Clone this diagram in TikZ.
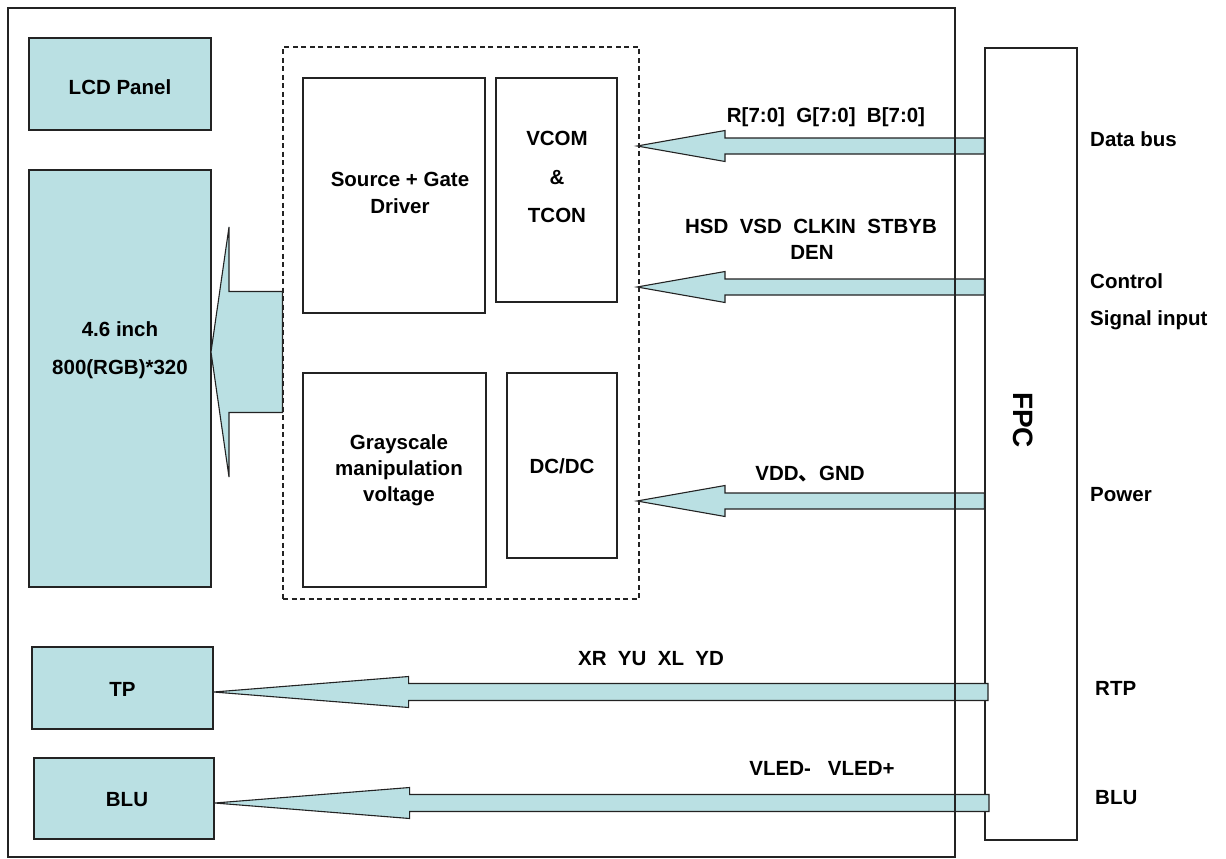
\documentclass[tikz,border=0pt]{standalone}
\usepackage{fontspec}
\setmainfont{Liberation Sans}
\usetikzlibrary{calc}
\definecolor{cy}{RGB}{186,224,227}
\definecolor{ln}{RGB}{35,35,35}
\newcommand{\blockarrow}[5]{%
  \path[barrow] let \p1=(#1), \p2=(#2) in
    (\x1,\y1) -- (\x1+#3,\y1+#4) -- (\x1+#3,\y1+#5) -- (\x2,\y1+#5)
    -- (\x2,\y1-#5) -- (\x1+#3,\y1-#5) -- (\x1+#3,\y1-#4) -- cycle;}
\begin{document}
\begin{tikzpicture}[x=1pt,y=-1pt,
  font=\fontsize{20.5}{25}\selectfont\bfseries,
  box/.style={draw=ln, line width=1.3pt, fill=cy, inner sep=0pt, align=center},
  wbox/.style={draw=ln, line width=1.3pt, fill=white, inner sep=0pt, align=center},
  barrow/.style={draw=ln, line width=1.1pt, fill=cy, line join=miter},
  lbl/.style={inner sep=0pt, align=center, anchor=center},
  rlbl/.style={inner sep=0pt, anchor=west}]
\useasboundingbox[fill=white] (0,0) rectangle (1226,859);
% FPC
\node[wbox, minimum width=92pt, minimum height=792pt] (fpc) at (1031,444) {};
\node[lbl, rotate=-90, font=\fontsize{28}{32}\selectfont\bfseries] (fpct) at (1023,420) {FPC};
% left boxes
\node[box, minimum width=182pt, minimum height=92pt] (lcd) at (120,84) {};
\node[lbl] (lcdt) at (120,87) {LCD Panel};
\node[box, minimum width=182pt, minimum height=417pt] (panel) at (120,378.5) {};
\node[lbl, font=\fontsize{20.5}{38}\selectfont\bfseries] (panelt) at (120,350.5) {4.6 inch\\800(RGB)*320};
\node[box, minimum width=181pt, minimum height=82pt] (tp) at (122.5,688) {};
\node[lbl] (tpt) at (122.5,689) {TP};
\node[box, minimum width=180pt, minimum height=81pt] (blu) at (124,798.5) {};
\node[lbl] (blut) at (127,799.5) {BLU};
% dashed driver box
\node[draw=ln, line width=1.1pt, dash pattern=on 5pt off 3.5pt, minimum width=356pt, minimum height=552pt, inner sep=0pt] (dash) at (461,323) {};
\node[wbox, minimum width=182pt, minimum height=235pt] (src) at (394,195.5) {};
\node[lbl, font=\fontsize{20.5}{27}\selectfont\bfseries] (srct) at (400,192.5) {Source + Gate\\Driver};
\node[wbox, minimum width=121pt, minimum height=224pt] (vcom) at (556.5,190) {};
\node[lbl, font=\fontsize{20.5}{38.5}\selectfont\bfseries] (vcomt) at (557,177) {VCOM\\\&\\TCON};
\node[wbox, minimum width=183pt, minimum height=214pt] (gray) at (394.5,480) {};
\node[lbl, font=\fontsize{20.5}{26}\selectfont\bfseries] (grayt) at (399,470) {Grayscale\\manipulation\\voltage};
\node[wbox, minimum width=110pt, minimum height=185pt] (dcdc) at (562,465.5) {};
\node[lbl] (dcdct) at (562,466) {DC/DC};
% arrow coordinates
\coordinate (bigtip) at (211,352);
\coordinate (bigtail) at (dash.west |- bigtip);
\coordinate (dbtip) at (637,146);
\coordinate (dbtail) at (fpc.west |- dbtip);
\coordinate (cstip) at (637,287);
\coordinate (cstail) at (fpc.west |- cstip);
\coordinate (pwtip) at (637,501);
\coordinate (pwtail) at (fpc.west |- pwtip);
\coordinate (tptip) at (tp.east |- 0,692);
\coordinate (tptail) at (988,692);
\coordinate (blutip) at (blu.east |- 0,803);
\coordinate (blutail) at (989,803);
\blockarrow{bigtip}{bigtail}{18pt}{125pt}{60.5pt}
\blockarrow{dbtip}{dbtail}{88pt}{15.5pt}{8pt}
\blockarrow{cstip}{cstail}{88pt}{15.5pt}{8pt}
\blockarrow{pwtip}{pwtail}{88pt}{15.5pt}{8pt}
\blockarrow{tptip}{tptail}{195pt}{15.5pt}{8.5pt}
\blockarrow{blutip}{blutail}{195pt}{15.5pt}{8.5pt}
% outer frame
\draw[ln, line width=1.3pt] (8,8) rectangle (955,857);
% labels on arrows
\node[lbl] (l1) at (826,117) {R[7:0]\ \ G[7:0]\ \ B[7:0]};
\node[lbl] (l2) at (811,226) {HSD\ \ VSD\ \ CLKIN\ \ STBYB};
\node[lbl] (l3) at (812,252) {DEN};
\node[lbl] (l4) at (810,474) {VDD{\fontspec{Noto Sans CJK SC}、}GND};
\node[lbl] (l5) at (651,659) {XR\ \ YU\ \ XL\ \ YD};
\node[lbl] (l6) at (822,768) {VLED-\ \ \ VLED+};
% right labels
\node[rlbl] (r1) at (1090,139) {Data bus};
\node[rlbl] (r2) at (1090,281) {Control};
\node[rlbl] (r3) at (1090,320) {Signal input};
\node[rlbl] (r4) at (1090,495) {Power};
\node[rlbl] (r5) at (1095,688) {RTP};
\node[rlbl] (r6) at (1095,798) {BLU};
\end{tikzpicture}
\end{document}
